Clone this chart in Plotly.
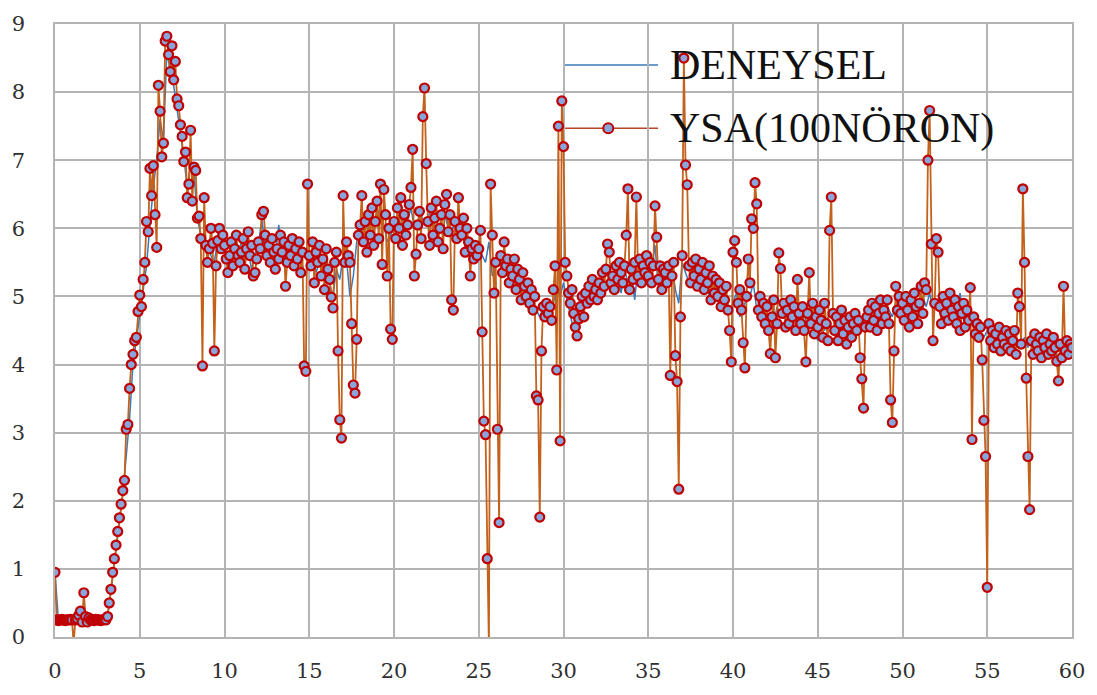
import plotly.graph_objects as go

# YSA (100 neuron) prediction, sampled every 0.1 on the x axis
ysa_00_10 = [
    0.95, 0.25, 0.24, 0.25, 0.26, 0.25, 0.24, 0.25, 0.25, 0.26,
    0.25, -0.1, 0.25, 0.27, 0.32, 0.38, 0.22, 0.65, 0.3, 0.22,
    0.28, 0.25, 0.25, 0.24, 0.26, 0.25, 0.25, 0.24, 0.25, 0.26,
    0.25, 0.3, 0.5, 0.7, 0.95, 1.15, 1.35, 1.55, 1.75, 1.95,
    2.15, 2.3, 3.05, 3.12, 3.65, 4.0, 4.15, 4.35, 4.4, 4.78,
    5.02, 4.85, 5.25, 5.5, 6.1, 5.95, 6.88, 6.48, 6.92, 6.2,
    5.72, 8.1, 7.72, 7.05, 7.25, 8.75, 8.82, 8.55, 8.3, 8.68,
    8.18, 8.45, 7.9, 7.8, 7.52, 7.35, 6.98, 7.12, 6.45, 6.65,
    7.44, 6.4, 6.9, 6.85, 6.15, 6.18, 5.85, 3.98, 6.45, 5.75,
    5.5, 5.7, 6.0, 5.78, 4.2, 5.45, 5.82, 6.0, 5.7, 5.9,
]
ysa_10_20 = [
    5.75, 5.55, 5.35, 5.6, 5.8, 5.45, 5.7, 5.9, 5.6, 5.5,
    5.65, 5.85, 5.4, 5.7, 5.95, 5.6, 5.75, 5.3, 5.35, 5.55,
    5.8, 5.7, 6.2, 6.25, 5.9, 5.6, 5.75, 5.5, 5.85, 5.65,
    5.4, 5.7, 5.55, 5.9, 5.65, 5.8, 5.15, 5.5, 5.75, 5.6,
    5.85, 5.45, 5.7, 5.55, 5.8, 5.35, 5.65, 3.98, 3.9, 6.65,
    5.6, 5.45, 5.8, 5.2, 5.65, 5.5, 5.75, 5.3, 5.55, 5.1,
    5.7, 5.4, 5.25, 4.99, 4.83, 5.5, 5.65, 4.2, 3.19, 2.92,
    6.48, 5.5, 5.8, 5.6, 5.5, 4.6, 3.7, 3.58, 4.37, 5.9,
    6.05, 6.48, 5.8, 6.1, 5.65, 6.2, 5.9, 6.3, 5.75, 6.1,
    6.4, 5.85, 6.65, 5.47, 6.57, 6.2, 5.3, 6.0, 4.52, 4.37,
]
ysa_20_30 = [
    6.1, 5.85, 6.3, 6.0, 6.45, 5.75, 6.2, 5.9, 6.05, 6.35,
    6.6, 7.16, 5.3, 5.62, 6.05, 6.25, 5.85, 7.64, 8.06, 6.95,
    6.1, 5.75, 6.3, 5.9, 6.15, 6.4, 5.8, 6.0, 6.2, 5.7,
    6.35, 6.5, 5.95, 6.2, 4.95, 4.8, 6.1, 5.85, 6.45, 6.0,
    5.9, 6.15, 5.65, 6.0, 5.8, 5.3, 5.7, 5.55, 5.75, 5.6,
    5.7, 5.97, 4.48, 3.17, 2.97, 1.15, -0.15, 6.65, 5.9, 5.05,
    5.5, 3.05, 1.68, 5.6, 5.35, 5.8, 5.45, 5.55, 5.2, 5.4,
    5.3, 5.55, 5.1, 5.4, 5.25, 4.95, 5.35, 5.15, 5.0, 5.2,
    4.9, 5.1, 4.8, 5.0, 3.54, 3.48, 1.76, 4.2, 4.85, 4.7,
    4.9, 4.75, 4.85, 4.65, 5.1, 5.45, 3.92, 7.5, 2.88, 7.87,
]
ysa_30_40 = [
    7.2, 5.5, 5.3, 5.05, 4.9, 5.1, 4.75, 4.55, 4.42, 4.67,
    4.85, 5.0, 4.7, 5.05, 4.9, 5.15, 4.95, 5.25, 5.0, 5.1,
    4.95, 5.2, 5.05, 5.35, 5.15, 5.4, 5.77, 5.65, 5.2, 5.3,
    5.1, 5.45, 5.25, 5.5, 5.35, 5.2, 5.45, 5.9, 6.58, 5.1,
    5.4, 5.25, 5.5, 6.46, 5.3, 5.55, 5.2, 5.45, 5.35, 5.6,
    5.3, 5.5, 5.2, 5.45, 6.33, 5.87, 5.25, 5.45, 5.1, 5.4,
    5.35, 5.2, 5.45, 3.84, 5.3, 5.5, 4.13, 3.75, 2.17, 4.7,
    5.6, 8.5, 6.93, 6.64, 5.45, 5.2, 5.5, 5.3, 5.55, 5.15,
    5.4, 5.25, 5.5, 5.1, 5.35, 5.2, 5.45, 4.95, 5.3, 5.05,
    5.25, 5.0, 5.2, 4.85, 5.1, 4.95, 5.15, 4.8, 4.5, 4.04,
]
ysa_40_50 = [
    5.65, 5.82, 5.5, 4.9, 5.1, 4.8, 4.32, 3.95, 5.0, 5.55,
    5.2, 6.14, 6.0, 6.67, 6.36, 4.8, 5.0, 4.7, 4.9, 4.6,
    4.85, 4.5, 4.16, 4.7, 4.95, 4.1, 4.6, 5.64, 5.41, 4.75,
    4.9, 4.55, 4.8, 4.6, 4.95, 4.7, 4.85, 4.5, 5.25, 4.75,
    4.6, 4.85, 4.5, 4.04, 4.75, 5.35, 4.6, 4.9, 4.45, 4.7,
    4.55, 4.8, 4.65, 4.4, 4.9, 4.6, 4.35, 5.97, 6.46, 4.75,
    4.5, 4.7, 4.35, 4.6, 4.8, 4.45, 4.65, 4.3, 4.55, 4.7,
    4.4, 4.6, 4.75, 4.5, 4.65, 4.1, 3.79, 3.36, 4.55, 4.7,
    4.8, 4.55, 4.9, 4.65, 4.85, 4.5, 4.75, 4.95, 4.6, 4.8,
    4.7, 4.95, 4.6, 3.48, 3.15, 4.2, 5.15, 4.8, 5.0, 4.75,
]
ysa_50_60 = [
    4.9, 4.65, 5.0, 4.8, 4.55, 4.95, 4.7, 5.05, 4.85, 4.6,
    4.9, 5.15, 4.75, 5.2, 5.1, 7.0, 7.73, 5.77, 4.35, 4.9,
    5.85, 5.65, 4.85, 4.6, 5.0, 4.75, 4.9, 4.65, 5.05, 4.8,
    4.7, 4.95, 4.6, 4.85, 4.5, 4.75, 4.9, 4.55, 4.8, 4.65,
    5.13, 2.9, 4.7, 4.45, 4.6, 4.4, 4.55, 4.07, 3.18, 2.65,
    0.73, 4.6, 4.35, 4.5, 4.25, 4.45, 4.3, 4.55, 4.2, 4.4,
    4.3, 4.5, 4.25, 4.45, 4.2, 4.35, 4.5, 4.15, 5.05, 4.85,
    4.3, 6.58, 5.5, 3.8, 2.65, 1.87, 4.35, 4.15, 4.45, 4.3,
    4.2, 4.4, 4.1, 4.35, 4.25, 4.45, 4.15, 4.3, 4.2, 4.4,
    4.25, 4.05, 3.76, 4.3, 4.1, 5.15, 4.2, 4.35, 4.15, 4.3,
    4.25,
]

# Measured (DENEYSEL) values, sampled every 0.2 on the x axis
deneysel_00_20 = [
    0.95, 0.25, 0.25, 0.25, 0.25, 0.25, 0.25, 0.28, 0.3, 0.25,
    0.25, 0.25, 0.25, 0.25, 0.25, 0.25, 0.45, 0.9, 1.3, 1.7,
    2.1, 2.6, 3.2, 4.0, 4.35, 4.75, 5.1, 5.45, 6.05, 6.6,
    7.0, 7.6, 7.3, 8.6, 8.3, 8.1, 7.75, 7.4, 7.05, 6.6,
    6.95, 6.8, 6.15, 5.9, 5.8, 5.75, 5.6, 5.5, 5.85, 5.65,
    5.7, 5.5, 5.75, 5.55, 5.65, 5.8, 5.5, 5.65, 5.4, 5.6,
    5.75, 6.15, 5.7, 5.6, 5.7, 5.55, 6.05, 5.6, 5.5, 5.65,
    5.7, 5.55, 5.6, 5.45, 5.3, 5.55, 5.65, 5.35, 5.5, 5.4,
    5.55, 5.2, 5.0, 5.4, 5.25, 5.6, 5.55, 5.0, 5.3, 5.8,
    6.0, 5.9, 6.05, 6.15, 5.95, 6.2, 6.3, 6.05, 5.8, 5.9,
]
deneysel_20_40 = [
    6.0, 6.15, 6.05, 6.2, 6.1, 6.3, 6.0, 6.1, 6.2, 6.05,
    6.15, 6.3, 6.05, 5.95, 6.1, 6.2, 6.0, 5.95, 6.1, 6.05,
    5.85, 5.9, 5.6, 5.7, 5.55, 5.75, 5.6, 5.5, 5.8, 5.3,
    5.45, 5.6, 5.35, 5.5, 5.3, 5.35, 5.2, 5.3, 5.1, 5.15,
    5.0, 4.9, 4.8, 4.7, 4.85, 4.75, 4.8, 4.9, 5.1, 5.0,
    5.2, 4.95, 4.75, 4.5, 4.8, 4.9, 4.85, 5.0, 5.05, 5.0,
    5.1, 5.2, 5.25, 5.4, 5.2, 5.25, 5.3, 5.05, 5.4, 5.2,
    5.35, 4.95, 5.45, 5.3, 5.5, 5.2, 5.5, 5.75, 5.1, 5.35,
    5.3, 5.2, 5.45, 5.1, 4.9, 5.5, 5.35, 5.2, 5.45, 5.2,
    5.3, 5.15, 5.25, 5.0, 5.15, 5.05, 5.1, 4.9, 4.95, 4.8,
]
deneysel_40_60 = [
    4.9, 5.05, 4.7, 4.85, 4.95, 5.0, 5.2, 4.8, 4.75, 4.6,
    4.7, 4.55, 4.6, 4.85, 4.7, 4.75, 4.6, 4.8, 4.7, 4.65,
    4.6, 4.75, 4.55, 4.7, 4.5, 4.35, 4.6, 4.5, 4.7, 4.55,
    4.5, 4.6, 4.45, 4.55, 4.6, 4.5, 4.65, 4.45, 4.6, 4.7,
    4.75, 4.65, 4.8, 4.7, 4.85, 4.75, 4.8, 4.7, 4.9, 4.85,
    4.8, 4.9, 4.75, 4.95, 4.85, 4.9, 5.0, 4.85, 5.05, 4.8,
    4.9, 4.75, 4.85, 4.7, 4.8, 4.75, 4.85, 5.05, 4.65, 4.7,
    4.6, 4.55, 4.6, 4.45, 4.4, 4.5, 4.4, 4.35, 4.45, 4.3,
    4.35, 4.3, 4.4, 4.25, 4.35, 4.3, 4.4, 4.25, 4.35, 4.2,
    4.3, 4.25, 4.35, 4.2, 4.3, 4.05, 4.3, 4.2, 4.35, 4.25,
    4.3,
]

ysa = ysa_00_10 + ysa_10_20 + ysa_20_30 + ysa_30_40 + ysa_40_50 + ysa_50_60
deneysel = deneysel_00_20 + deneysel_20_40 + deneysel_40_60

x_ysa = [round(i * 0.1, 1) for i in range(len(ysa))]
x_deneysel = [round(i * 0.2, 1) for i in range(len(deneysel))]

series_names = ["DENEYSEL", "YSA(100NÖRON)"]
x_ticks = list(range(0, 61, 5))
y_ticks = list(range(0, 10))

BLUE = "#3a7abd"
ORANGE = "#c3621c"
MARKER_FILL = "#86a6dc"
MARKER_EDGE = "#c00000"
GRID = "#b4b4b4"

fig = go.Figure()
fig.add_trace(go.Scatter(
    x=x_deneysel, y=deneysel, mode="lines", name=series_names[0],
    line=dict(color=BLUE, width=1.5),
))
fig.add_trace(go.Scatter(
    x=x_ysa, y=ysa, mode="lines+markers", name=series_names[1],
    line=dict(color=ORANGE, width=1.8),
    marker=dict(symbol="circle", size=9, color=MARKER_FILL,
                line=dict(color=MARKER_EDGE, width=2.2)),
    cliponaxis=True,
))

tick_font = dict(family="DejaVu Serif", size=21, color="#303030")
axis_common = dict(
    showgrid=True, gridcolor=GRID, gridwidth=1.5,
    showline=True, linecolor=GRID, linewidth=1.5, mirror=True,
    zeroline=False, ticks="", tickfont=tick_font,
)
fig.update_xaxes(range=[0, 60], tickvals=x_ticks, ticklabelstandoff=14, **axis_common)
fig.update_yaxes(range=[0, 9], tickvals=y_ticks, ticklabelstandoff=24, **axis_common)

# Legend drawn inside the plot area with long line samples
legend_font = dict(family="Liberation Serif, Times New Roman, serif", size=42, color="#111111")
y_rows = [0.933, 0.830]
shapes = [
    dict(type="line", xref="paper", yref="paper", x0=0.5, x1=0.593,
         y0=y_rows[0], y1=y_rows[0], line=dict(color=BLUE, width=1.5), layer="between"),
    dict(type="line", xref="paper", yref="paper", x0=0.5, x1=0.593,
         y0=y_rows[1], y1=y_rows[1], line=dict(color="#b8452a", width=1.5), layer="between"),
    dict(type="circle", xref="paper", yref="paper", xsizemode="pixel", ysizemode="pixel",
         xanchor=0.544, yanchor=y_rows[1], x0=-5, x1=5, y0=-5, y1=5,
         fillcolor=MARKER_FILL, line=dict(color=MARKER_EDGE, width=2), layer="above"),
]
annotations = [
    dict(xref="paper", yref="paper", x=0.6025, y=y_rows[i], xanchor="left", yanchor="middle",
         text=series_names[i], showarrow=False, font=legend_font)
    for i in range(2)
]

fig.update_layout(
    width=1097, height=695,
    margin=dict(l=48, r=25, t=15, b=52),
    plot_bgcolor="white", paper_bgcolor="white",
    showlegend=False,
    shapes=shapes, annotations=annotations,
)

fig.write_html("out.html")
